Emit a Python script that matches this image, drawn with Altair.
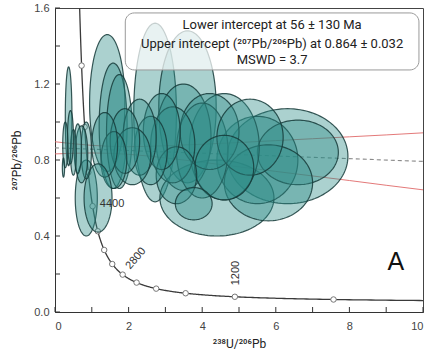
import altair as alt
import numpy as np
import pandas as pd

# Analyses: centre (238U/206Pb, 207Pb/206Pb) and 2-sigma half-widths
ell_x = [2.72, 3.60, 6.32, 4.40, 1.42, 5.50, 6.60, 5.80, 4.60, 3.49, 4.00, 4.20,
         5.30, 4.60, 3.20, 3.30, 3.77, 1.58, 1.75, 2.90, 2.60, 2.30, 2.10, 1.90,
         1.60, 1.35, 0.85, 1.17, 0.37, 0.85, 0.72, 0.62, 0.50, 0.42, 0.28, 0.23]
ell_y = [1.05, 1.08, 0.82, 0.60, 1.10, 0.80, 0.84, 0.68, 0.87, 0.92, 0.85, 0.95,
         0.92, 0.76, 0.88, 0.72, 0.57, 0.98, 0.95, 0.95, 0.85, 0.92, 0.82, 0.90,
         0.80, 0.88, 0.60, 0.60, 1.03, 0.85, 0.83, 0.86, 0.84, 0.92, 0.88, 0.76]
ell_sx = [0.58, 0.78, 1.64, 1.55, 0.48, 1.10, 1.10, 1.20, 0.95, 0.75, 0.70, 0.80,
          0.90, 0.80, 0.60, 0.55, 0.50, 0.38, 0.35, 0.50, 0.45, 0.45, 0.50, 0.40,
          0.35, 0.35, 0.30, 0.38, 0.09, 0.14, 0.17, 0.10, 0.08, 0.08, 0.07, 0.03]
ell_sy = [0.47, 0.40, 0.25, 0.20, 0.36, 0.23, 0.17, 0.20, 0.28, 0.28, 0.25, 0.20,
          0.20, 0.17, 0.20, 0.15, 0.085, 0.33, 0.30, 0.20, 0.18, 0.20, 0.15, 0.17,
          0.15, 0.17, 0.20, 0.18, 0.26, 0.15, 0.15, 0.13, 0.12, 0.14, 0.12, 0.05]

# Regression result
lower_age_ma = 56
upper_ratio = 0.864

# Error envelope of the regression line
env_x = [0, 1, 2, 3, 4, 5, 6, 7, 8, 9, 10]
env_upper = [0.896, 0.877, 0.870, 0.875, 0.883, 0.892, 0.902, 0.912, 0.922, 0.932, 0.943]
env_lower = [0.832, 0.837, 0.830, 0.811, 0.788, 0.764, 0.740, 0.716, 0.692, 0.667, 0.643]

# Concordia age markers (Ma) and labelled ages
marker_ages = [800, 1200, 1600, 2000, 2400, 2800, 3200, 3600, 4000, 4400, 4800, 5200, 5600]
label_ages = [1200, 2800, 4400]
label_angle = [270, 310, 0]
label_dx = [0.03, 0.36, 0.53]
label_dy = [0.125, 0.085, 0.01]

x_major = [0, 2, 4, 6, 8, 10]
x_minor = [1, 3, 5, 7, 9]
y_major = [0.0, 0.4, 0.8, 1.2, 1.6]
y_minor = [0.2, 0.6, 1.0, 1.4]

L238 = 1.55125e-4   # per Ma
L235 = 9.8485e-4    # per Ma
U_RATIO = 137.88


def tw(age):
    e8 = np.exp(L238 * np.asarray(age, dtype=float)) - 1.0
    e5 = np.exp(L235 * np.asarray(age, dtype=float)) - 1.0
    return 1.0 / e8, e5 / (e8 * U_RATIO)


FONT = "Liberation Sans"
SUPFONT = "Roboto"
W, H = 368, 304
xs = alt.Scale(domain=[0, 10], nice=False, zero=False)
ys = alt.Scale(domain=[0, 1.6], nice=False, zero=False)

xax = alt.Axis(values=x_major, format="d", title="²³⁸U/²⁰⁶Pb", ticks=False, grid=False,
               domainColor="#333", domainWidth=1, labelFont=FONT, labelFontSize=11,
               labelColor="#444", labelPadding=8, titleFont=SUPFONT, titleFontSize=12,
               titleFontWeight="normal", titleColor="#222", titlePadding=7)
yax = alt.Axis(values=y_major, format=".1f", title="²⁰⁷Pb/²⁰⁶Pb", ticks=False, grid=False,
               domainColor="#333", domainWidth=1, labelFont=FONT, labelFontSize=11,
               labelColor="#444", labelPadding=6, titleFont=SUPFONT, titleFontSize=12,
               titleFontWeight="normal", titleColor="#222", titlePadding=10)


def X(f):
    return alt.X(f, scale=xs, axis=xax)


def Y(f):
    return alt.Y(f, scale=ys, axis=yax)


# ellipse outlines: one closed polygon per analysis
layers_ell = []
t = np.linspace(0, np.pi, 61)
for i, (cx, cy, sx, sy) in enumerate(zip(ell_x, ell_y, ell_sx, ell_sy)):
    d = pd.DataFrame({"x": cx - sx * np.cos(t),
                      "top": cy + sy * np.sin(t),
                      "bot": cy - sy * np.sin(t)})
    layers_ell.append(
        alt.Chart(d).mark_area(
            color="#2e8b87", fillOpacity=0.4, stroke="#163b39", strokeWidth=1.2,
            strokeOpacity=0.85, orient="vertical"
        ).encode(x=X("x:Q"), y=Y("top:Q"), y2="bot:Q")
    )

# concordia curve
ages = np.arange(600, 6200, 10)
cx_, cy_ = tw(ages)
conc_df = pd.DataFrame({"x": cx_, "y": cy_, "age": ages})
conc_df = conc_df[(conc_df.x <= 10.5) & (conc_df.y <= 1.75)]
concordia = alt.Chart(conc_df).mark_line(color="#3a3a3a", strokeWidth=1.3, clip=True).encode(
    x=X("x:Q"), y=Y("y:Q"), order="age:Q")

mx, my = tw(marker_ages)
mk_df = pd.DataFrame({"x": mx, "y": my})
markers = alt.Chart(mk_df).mark_point(
    shape="circle", filled=True, fill="white", stroke="#777", strokeWidth=1, size=30, opacity=1
).encode(x=X("x:Q"), y=Y("y:Q"))

lx, ly = tw(label_ages)
lab_layers = []
for a, xx, yy, ang, dx, dy in zip(label_ages, lx, ly, label_angle, label_dx, label_dy):
    d = pd.DataFrame({"x": [xx + dx], "y": [yy + dy], "t": [str(a)]})
    lab_layers.append(
        alt.Chart(d).mark_text(font=FONT, fontSize=11, color="#333", angle=ang,
                               align="center", baseline="middle")
        .encode(x=X("x:Q"), y=Y("y:Q"), text="t:N"))

# regression line through the two intercepts
lx0, ly0 = tw([lower_age_ma])
slope = (ly0[0] - upper_ratio) / (lx0[0] - 0.0)
reg_df = pd.DataFrame({"x": [0.0, 10.0], "y": [upper_ratio, upper_ratio + slope * 10.0]})
reg = alt.Chart(reg_df).mark_line(color="#8a8a8a", strokeWidth=1.1, strokeDash=[4, 3]).encode(
    x=X("x:Q"), y=Y("y:Q"))

env_df = pd.concat([
    pd.DataFrame({"x": env_x, "y": env_upper, "s": "u"}),
    pd.DataFrame({"x": env_x, "y": env_lower, "s": "l"}),
])
env = alt.Chart(env_df).mark_line(color="#e06a6a", strokeWidth=0.9, interpolate="monotone").encode(
    x=X("x:Q"), y=Y("y:Q"), detail="s:N")

# inward tick marks
xt = pd.DataFrame({"v": x_major + x_minor})
yt = pd.DataFrame({"v": y_major + y_minor})
xticks = alt.Chart(xt).mark_rule(color="#333", strokeWidth=1).encode(
    x=X("v:Q"), y=alt.value(H - 5), y2=alt.value(H))
yticks = alt.Chart(yt).mark_rule(color="#333", strokeWidth=1).encode(
    y=Y("v:Q"), x=alt.value(0), x2=alt.value(5))

# result box
box_df = pd.DataFrame({"x": [1.91], "x2": [9.89], "y": [1.574], "y2": [1.274]})
box = alt.Chart(box_df).mark_rect(
    fill="white", fillOpacity=0.72, stroke="#9a9a9a", strokeWidth=1, cornerRadius=9
).encode(x=X("x:Q"), x2="x2:Q", y=Y("y:Q"), y2="y2:Q")

txt_df = pd.DataFrame({
    "x": [5.9, 5.9, 5.9],
    "y": [1.511, 1.412, 1.326],
    "t": [f"Lower intercept at {lower_age_ma} ± 130 Ma",
          f"Upper intercept (²⁰⁷Pb/²⁰⁶Pb) at {upper_ratio} ± 0.032",
          "MSWD = 3.7"],
})
box_text = alt.Chart(txt_df).mark_text(font=SUPFONT, fontSize=13, color="#222",
                                       align="center", baseline="middle").encode(
    x=X("x:Q"), y=Y("y:Q"), text="t:N")

panel = alt.Chart(pd.DataFrame({"x": [9.26], "y": [0.263], "t": ["A"]})).mark_text(
    font=FONT, fontSize=25, color="#111", align="center", baseline="middle").encode(
    x=X("x:Q"), y=Y("y:Q"), text="t:N")

chart = alt.layer(
    env, reg, concordia, markers, *layers_ell, *lab_layers,
    box, box_text, panel, xticks, yticks
).properties(
    width=W, height=H,
    padding={"left": 55, "top": 8, "right": 5, "bottom": 42},
    autosize=alt.AutoSizeParams(type="none"),
).configure_view(stroke="#444", strokeWidth=1)

chart.save("out.html", embed_options={"renderer": "svg", "actions": False})
